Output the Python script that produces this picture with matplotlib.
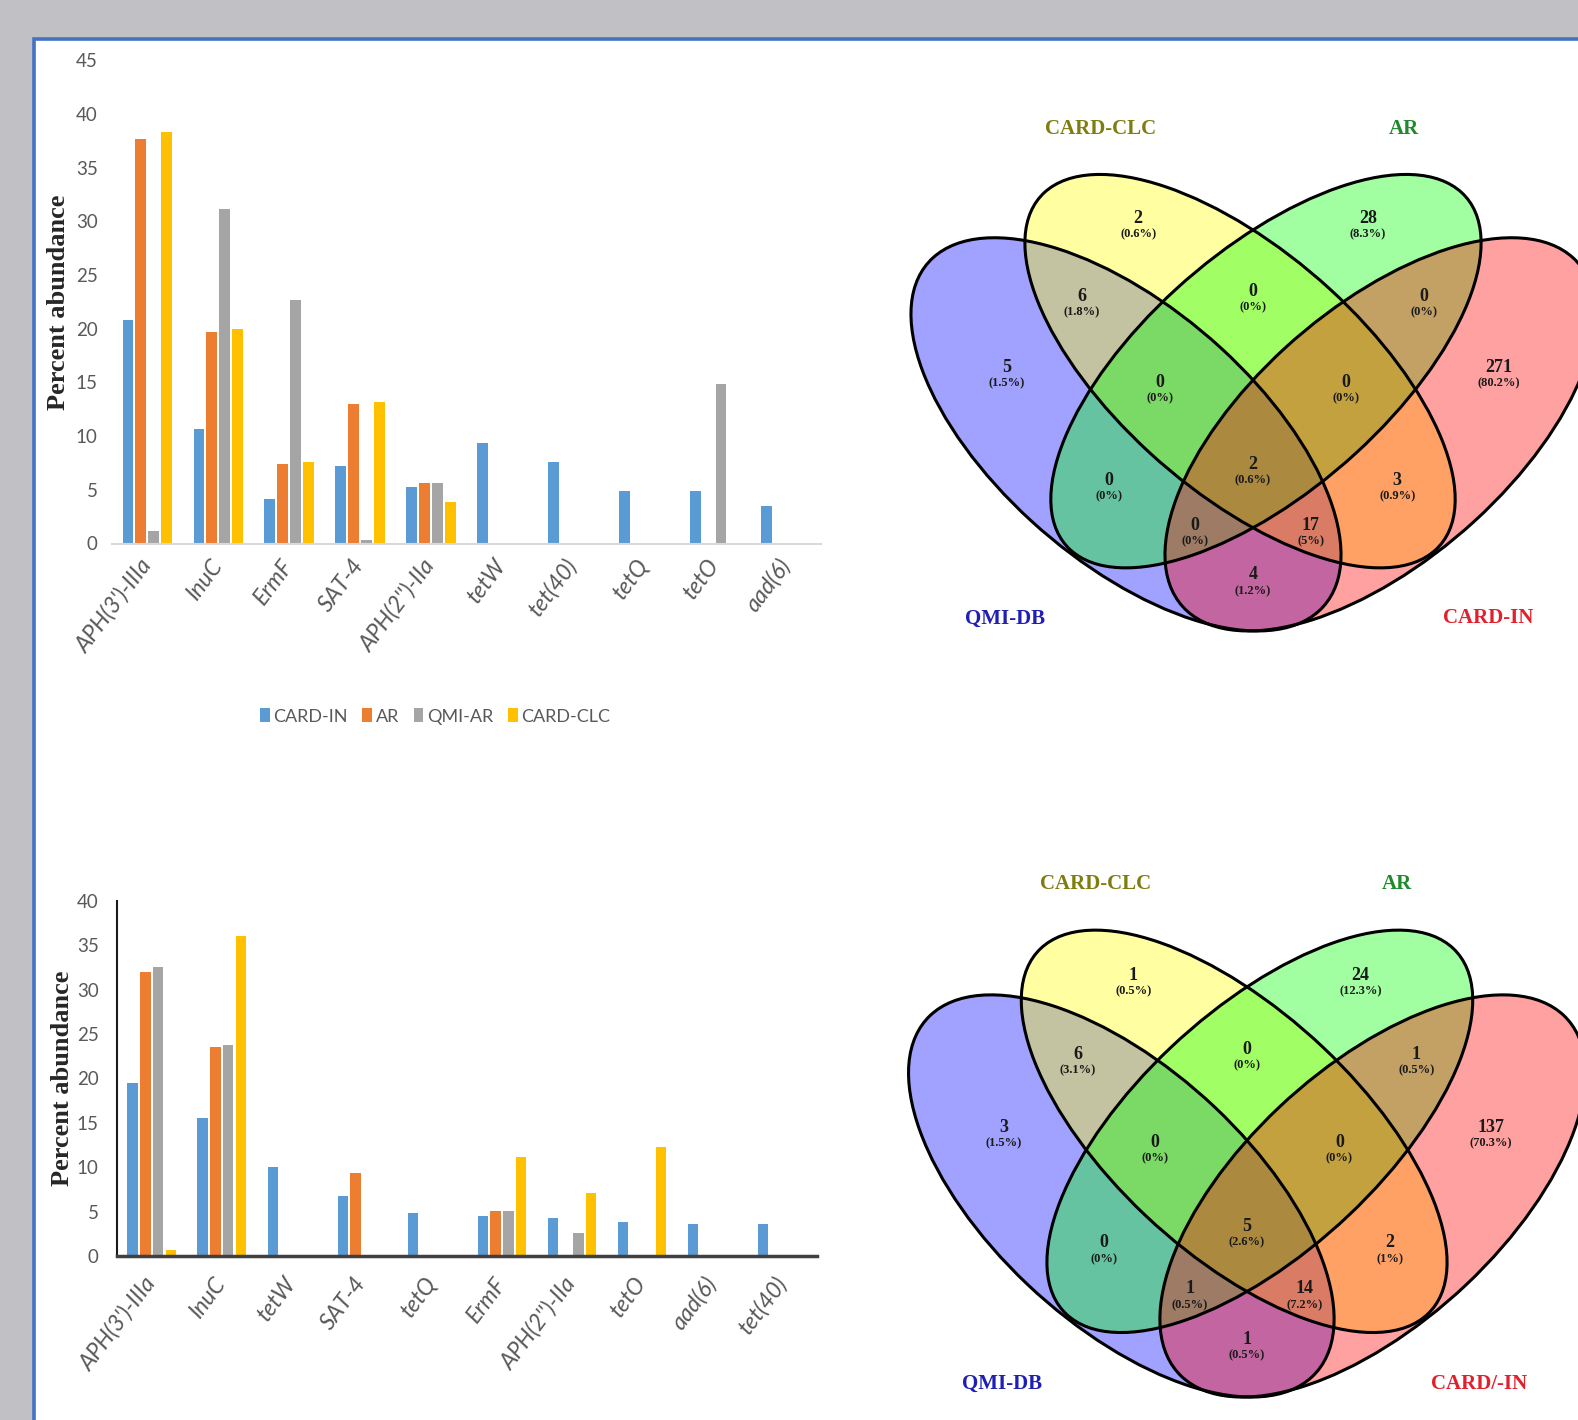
import numpy as np
import matplotlib
matplotlib.use("Agg")
import matplotlib.pyplot as plt
from matplotlib.patches import Ellipse, Rectangle

W, H, DPI = 1578, 1420, 100

# ---------------- bar chart data ----------------
top_genes = ["APH(3')-IIIa", "InuC", "ErmF", "SAT-4", "APH(2'')-IIa",
             "tetW", "tet(40)", "tetQ", "tetO", "aad(6)"]
top_card_in = [20.8, 10.7, 4.1, 7.2, 5.3, 9.4, 7.6, 4.9, 4.9, 3.5]
top_ar = [37.7, 19.7, 7.4, 13.0, 5.6, 0, 0, 0, 0, 0]
top_qmi_ar = [1.2, 31.2, 22.7, 0.3, 5.6, 0, 0, 0, 14.9, 0]
top_card_clc = [38.3, 20.0, 7.6, 13.2, 3.9, 0, 0, 0, 0, 0]
top_names = ["CARD-IN", "AR", "QMI-AR", "CARD-CLC"]

bot_genes = ["APH(3')-IIIa", "InuC", "tetW", "SAT-4", "tetQ",
             "ErmF", "APH(2'')-IIa", "tetO", "aad(6)", "tet(40)"]
bot_card_in = [19.5, 15.5, 10.0, 6.8, 4.8, 4.5, 4.3, 3.8, 3.6, 3.6]
bot_ar = [32.0, 23.5, 0, 9.4, 0, 5.1, 0, 0, 0, 0]
bot_card_clc = [32.5, 23.7, 0, 0, 0, 5.1, 2.6, 0, 0, 0]
bot_qmi_ar = [0.7, 36.0, 0, 0, 0, 11.1, 7.1, 12.3, 0, 0]
bot_names = ["CARD-IN", "AR", "CARD-CLC", "QMI-AR"]

bar_colors = ["#5b9bd5", "#ed7d31", "#a5a5a5", "#ffc000"]

# ---------------- Venn data ----------------
# region order: QMI, CLC, AR, IN, QMI&CLC, CLC&AR, AR&IN, QMI&CLC&AR,
# CLC&AR&IN, QMI&AR, all four, CLC&IN, QMI&AR&IN, QMI&CLC&IN, QMI&IN
venn_top_counts = [5, 2, 28, 271, 6, 0, 0, 0, 0, 0, 2, 3, 0, 17, 4]
venn_bot_counts = [3, 1, 24, 137, 6, 0, 1, 0, 0, 0, 5, 2, 1, 14, 1]
venn_top_sets = ["CARD-CLC", "AR", "QMI-DB", "CARD-IN"]
venn_bot_sets = ["CARD-CLC", "AR", "QMI-DB", "CARD/-IN"]

# ---------------- layout ----------------
REGION_POS = [(0.215, 0.590), (0.367, 0.778), (0.633, 0.778), (0.785, 0.590),
              (0.302, 0.680), (0.500, 0.686), (0.698, 0.680),
              (0.392, 0.571), (0.608, 0.571),
              (0.333, 0.447), (0.500, 0.467), (0.667, 0.447),
              (0.433, 0.390), (0.567, 0.390), (0.500, 0.327)]
SET_LABEL_POS = [(0.323, 0.891), (0.675, 0.891), (0.213, 0.272), (0.772, 0.272)]
SET_LABEL_COLORS = ["#7d7d10", "#1f8a2a", "#1f1fb4", "#e0202c"]
# QMI (blue), CLC (yellow), AR (green), IN (red) ellipses: centre, semi-axes, angle
ELLIPSES = [((0.353, 0.505), 0.316, 0.155, -45, "#0000ff"),
            ((0.485, 0.585), 0.320, 0.147, -45, "#ffff00"),
            ((0.515, 0.585), 0.320, 0.147, 45, "#00ff00"),
            ((0.647, 0.505), 0.316, 0.155, 45, "#ff0000")]

SANS = ["Lato", "DejaVu Sans"]
SERIF = ["Liberation Serif", "DejaVu Serif"]
GREY_TXT = "#595959"

fig = plt.figure(figsize=(W / DPI, H / DPI), dpi=DPI)
fig.patch.set_facecolor("#c1c0c5")
fig.add_artist(Rectangle((34 / W, -0.05), 1.2, 1.05 - 39 / H,
                         transform=fig.transFigure, facecolor="white",
                         edgecolor="#4472c4", linewidth=2.6, zorder=-10))


def px_axes(left, top, right, bottom):
    return fig.add_axes([left / W, 1 - bottom / H, (right - left) / W, (bottom - top) / H])


def bar_panel(ax, genes, series, names, ymax, ypad, xpad, ylab_x):
    x = np.arange(len(genes))
    step, width = 0.182, 0.148
    offs = (np.arange(len(series)) - (len(series) - 1) / 2) * step
    for vals, off, col, name in zip(series, offs, bar_colors, names):
        ax.bar(x + off, vals, width, color=col, label=name, linewidth=0)
    ax.set_facecolor("none")
    ax.set_xlim(-0.5, len(genes) - 0.5)
    ax.set_ylim(0, ymax)
    ticks = np.arange(0, ymax + 1, 5)
    ax.set_yticks(ticks)
    ax.set_yticklabels([str(v) for v in ticks], family=SANS, fontsize=13.5,
                       color=GREY_TXT)
    ax.set_xticks(x)
    ax.set_xticklabels(genes, rotation=53, ha="right", va="center",
                       rotation_mode="anchor", family=SANS, style="italic",
                       fontsize=16.5, color=GREY_TXT)
    ax.tick_params(axis="y", length=0, pad=ypad)
    ax.tick_params(axis="x", length=0, pad=xpad)
    for s in ("top", "right"):
        ax.spines[s].set_visible(False)
    ax.set_ylabel("Percent abundance", family=SERIF, fontweight="bold",
                  fontsize=19, color="#262626", va="center")
    ax.yaxis.set_label_coords(ylab_x, 0.5)
    return ax


def bar_legend(ax, y_px):
    h, l = ax.get_legend_handles_labels()
    fig.legend(h, l, loc="center", bbox_to_anchor=(435 / W, 1 - y_px / H), ncol=4,
               frameon=False, handlelength=0.55, handleheight=0.8,
               handletextpad=0.2, columnspacing=0.8,
               prop={"family": SANS, "size": 13}, labelcolor=GREY_TXT)


# ---- upper bar chart ----
ax1 = px_axes(111.7, 60.4, 821.2, 543.5)
bar_panel(ax1, top_genes, [top_card_in, top_ar, top_qmi_ar, top_card_clc],
          top_names, 45, 10, 13, -0.0751)
ax1.spines["left"].set_visible(False)
ax1.spines["bottom"].set_color("#d9d9d9")
ax1.spines["bottom"].set_linewidth(1.5)
bar_legend(ax1, 716.5)

# ---- lower bar chart ----
ax2 = px_axes(116.7, 900.7, 817.2, 1256)
bar_panel(ax2, bot_genes, [bot_card_in, bot_ar, bot_card_clc, bot_qmi_ar],
          bot_names, 40, 13, 17, -0.0775)
ax2.spines["left"].set_color("#1a1a1a")
ax2.spines["left"].set_linewidth(1.5)
ax2.spines["bottom"].set_color("#404040")
ax2.spines["bottom"].set_linewidth(2.5)
bar_legend(ax2, 1430)


def pct(c, total):
    return "({:g}%)".format(round(100.0 * c / total, 1))


def venn_panel(ax, counts, set_names):
    ax.set_xlim(0, 1)
    ax.set_ylim(0, 1)
    ax.axis("off")
    for (c, a, b, ang, col) in ELLIPSES:
        ax.add_patch(Ellipse(c, 2 * a, 2 * b, angle=ang, facecolor=col,
                             alpha=0.37, edgecolor="none", clip_on=False))
    for (c, a, b, ang, col) in ELLIPSES:
        ax.add_patch(Ellipse(c, 2 * a, 2 * b, angle=ang, fill=False,
                             edgecolor="black", linewidth=2.2, clip_on=False))
    total = sum(counts)
    for (u, v), n in zip(REGION_POS, counts):
        ax.text(u, v, str(n), ha="center", va="center", family=SERIF,
                fontweight="bold", fontsize=13, color="#1a1a1a")
        ax.annotate(pct(n, total), (u, v), xytext=(0, -11.5),
                    textcoords="offset points", ha="center", va="center",
                    family=SERIF, fontweight="bold", fontsize=9,
                    color="#1a1a1a")
    for (u, v), name, col in zip(SET_LABEL_POS, set_names, SET_LABEL_COLORS):
        ax.text(u, v, name, ha="center", va="center", family=SERIF,
                fontweight="bold", fontsize=15, color=col)


ax3 = px_axes(821, 43.3, 1685, 833.3)
venn_panel(ax3, venn_top_counts, venn_top_sets)
ax4 = px_axes(819.5, 796, 1674.5, 1604)
venn_panel(ax4, venn_bot_counts, venn_bot_sets)

fig.savefig("out.png", dpi=DPI, facecolor=fig.get_facecolor())
